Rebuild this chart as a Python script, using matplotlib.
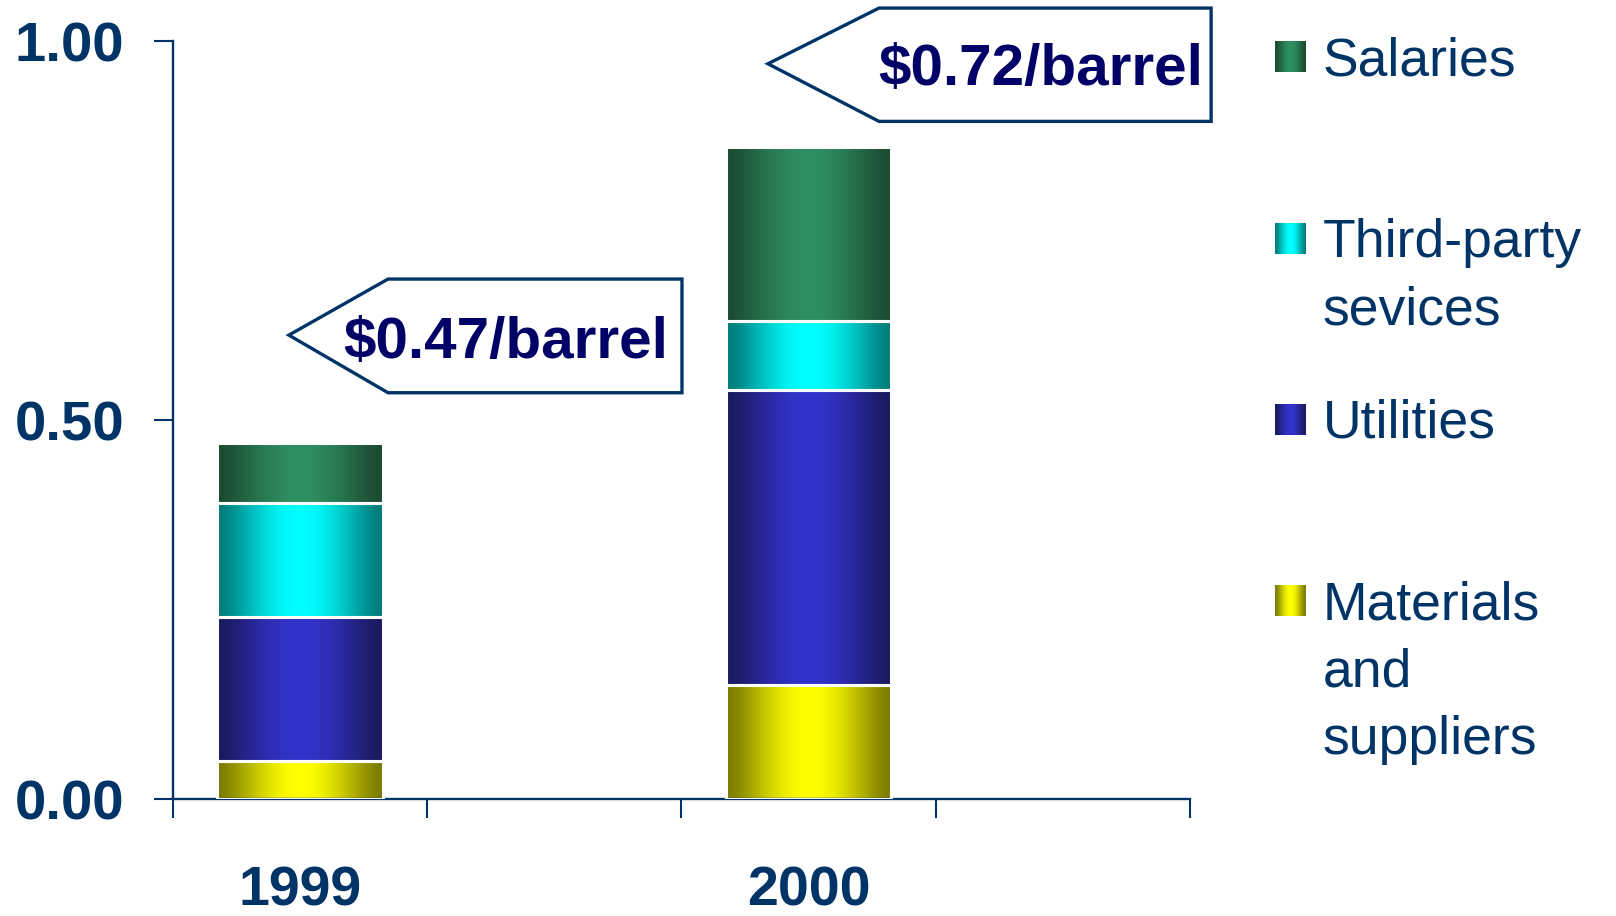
import matplotlib
matplotlib.use("Agg")
import matplotlib.pyplot as plt
from matplotlib.colors import to_rgb
from matplotlib.patches import Polygon
import numpy as np

plt.rcParams['font.family'] = ['Liberation Sans', 'DejaVu Sans']

years = ["1999", "2000"]
categories = ["Materials\nand\nsuppliers", "Utilities", "Third-party\nsevices", "Salaries"]
materials = [0.05, 0.15]
utilities = [0.19, 0.39]
third_party = [0.15, 0.09]
salaries = [0.08, 0.23]
callouts = ["$0.47/barrel", "$0.72/barrel"]

# dark edge / bright centre of each cylinder-like fill
shades = [("#7A7A00", "#FFFF00"),
          ("#1A1A5E", "#3333CC"),
          ("#007A7A", "#00FFFF"),
          ("#1B4A31", "#2E8F60")]

NAVY = "#003366"
INK = "#000066"


def gradient(edge, center, n=200):
    u = np.linspace(0, 1, n)
    w = np.sin(np.pi * u) ** 1.4
    e = np.array(to_rgb(edge))
    c = np.array(to_rgb(center))
    return (e[None, :] * (1 - w[:, None]) + c[None, :] * w[:, None])[None, :, :]


fig = plt.figure(figsize=(16.16, 9.16), dpi=100)
ax = fig.add_axes([0.107, 0.1277, 0.6294, 0.8275])

xpos = np.array([0.5, 2.5])
width = 0.65
bottom = np.zeros(2)
for vals, (edge, center) in zip([materials, utilities, third_party, salaries], shades):
    bars = ax.bar(xpos, vals, width, bottom=bottom, facecolor="none",
                  edgecolor="white", linewidth=2.2, zorder=3)
    for b in bars:
        x0, y0 = b.get_x(), b.get_y()
        ax.imshow(gradient(edge, center), extent=[x0, x0 + b.get_width(), y0, y0 + b.get_height()],
                  aspect="auto", interpolation="bilinear", zorder=2)
    bottom += np.array(vals)

ax.set_xlim(0, 4)
ax.set_ylim(0, 1)

for s in ["top", "right"]:
    ax.spines[s].set_visible(False)
for s in ["left", "bottom"]:
    ax.spines[s].set_color(NAVY)
    ax.spines[s].set_linewidth(1.7)

ax.set_yticks([0, 0.5, 1.0])
ax.set_yticklabels(["0.00", "0.50", "1.00"])
ax.tick_params(axis="y", direction="out", length=14, width=1.5, color=NAVY,
               pad=21, labelsize=40.5, labelcolor=NAVY)
for t in ax.get_yticklabels():
    t.set_fontweight("bold")

ax.set_xticks([0, 1, 2, 3, 4])
ax.set_xticklabels([])
ax.set_xticks(xpos, minor=True)
ax.set_xticklabels(years, minor=True, fontsize=40, fontweight="bold", color=NAVY)
ax.tick_params(axis="x", which="major", direction="out", length=14, width=1.5, color=NAVY)
ax.tick_params(axis="x", which="minor", length=0, pad=48)

# arrow-shaped callouts pointing at each bar
shapes = [dict(tip=(0.456, 0.612), left=0.846, right=2.002, top=0.686, bot=0.536, tx=1.308, ty=0.602),
          dict(tip=(2.340, 0.970), left=2.777, right=4.083, top=1.0435, bot=0.894, tx=3.414, ty=0.962)]
for label, s in zip(callouts, shapes):
    pts = [s["tip"], (s["left"], s["top"]), (s["right"], s["top"]),
           (s["right"], s["bot"]), (s["left"], s["bot"])]
    ax.add_patch(Polygon(pts, closed=True, facecolor="white", edgecolor=NAVY,
                         linewidth=2.4, zorder=5, clip_on=False))
    ax.text(s["tx"], s["ty"], label, fontsize=42, fontweight="bold", color=INK,
            ha="center", va="center", zorder=6, clip_on=False)

# legend, top to bottom
leg = fig.add_axes([0, 0, 1, 1], facecolor="none")
rows = [57, 239, 420, 601]
for label, (edge, center), yc in zip(categories[::-1], shades[::-1], rows):
    leg.imshow(gradient(edge, center), extent=[1275, 1306, yc + 15.5, yc - 15.5],
               aspect="auto", interpolation="bilinear")
    leg.text(1323, yc - 21, label, fontsize=38.5, color=NAVY, ha="left", va="top",
             linespacing=1.45)
leg.set_xlim(0, 1616)
leg.set_ylim(916, 0)
leg.axis("off")

fig.savefig("out.png", dpi=100)
